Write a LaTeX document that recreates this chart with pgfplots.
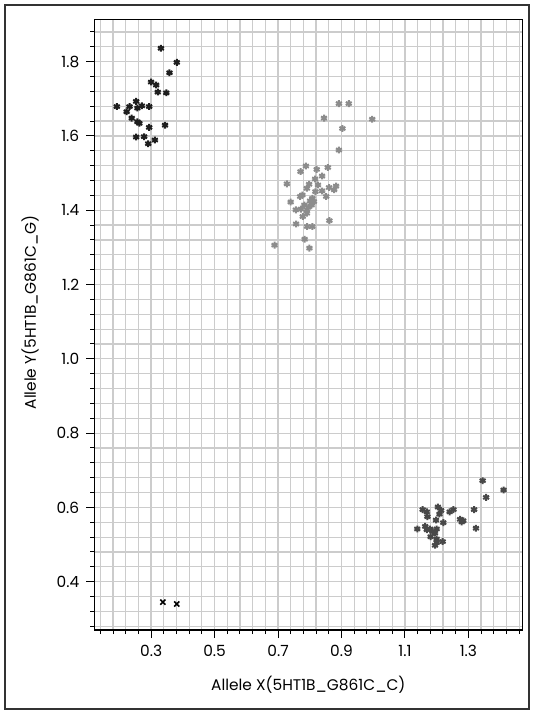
\documentclass[border=0pt]{standalone}
\usepackage{fontspec}
\setmainfont{Poppins}
\usepackage{pgfplots}
\pgfplotsset{compat=1.18}
\definecolor{Grid}{HTML}{CCCCCC}
\definecolor{CluA}{HTML}{1E1E1E}
\definecolor{CluB}{HTML}{8C8C8C}
\definecolor{CluC}{HTML}{484848}
\definecolor{Frame}{HTML}{333333}

\begin{document}
\begin{tikzpicture}
\useasboundingbox (-47.15pt,-40.5pt) rectangle (219.85pt,315pt);
\draw[Frame,line width=0.7pt] (-44.65pt,-39.5pt) rectangle (217.35pt,312.5pt);
\begin{axis}[
  at={(0,0)}, anchor=south west,
  scale only axis,
  width=214pt, height=305.35pt,
  xmin=0.121, xmax=1.47,
  ymin=0.27, ymax=1.914,
  xtick={0.3,0.5,0.7,0.9,1.1,1.3},
  ytick={0.4,0.6,0.8,1.0,1.2,1.4,1.6,1.8},
  minor xtick={0.14,0.18,...,1.47},
  minor ytick={0.28,0.32,...,1.90},
  xticklabels={0.3,0.5,0.7,0.9,1.1,1.3},
  yticklabels={0.4,0.6,0.8,1.0,1.2,1.4,1.6,1.8},
  grid=minor,
  minor grid style={Grid,line width=0.6pt},
  tick align=outside,
  xtick pos=bottom, ytick pos=left,
  major tick length=4pt, minor tick length=2pt,
  every tick/.style={black,line width=0.5pt},
  axis line style={black,line width=0.7pt},
  tick label style={font=\fontsize{7.7}{9}\selectfont},
  label style={font=\fontsize{7.7}{9}\selectfont},
  /pgf/number format/assume math mode=true,
  xlabel={Allele X(5HT1B\_G861C\_C)},
  ylabel={Allele Y(5HT1B\_G861C\_G)},
  xlabel style={at={(axis description cs:0.5,-0.09)},anchor=center},
  ylabel style={at={(axis description cs:-0.15,0.52)},anchor=center,rotate=0},
]
% cluster top-left
\addplot[only marks,mark=asterisk,mark size=1.7pt,line width=1pt,CluA] coordinates {
(0.331,1.836) (0.381,1.798) (0.358,1.770) (0.300,1.745) (0.316,1.737)
(0.321,1.718) (0.348,1.716) (0.253,1.693) (0.192,1.679) (0.232,1.679)
(0.257,1.675) (0.271,1.681) (0.294,1.679) (0.223,1.665) (0.239,1.648)
(0.257,1.638) (0.263,1.634) (0.294,1.623) (0.344,1.629) (0.253,1.597)
(0.278,1.598) (0.312,1.589) (0.291,1.579)
};
% cluster middle
\addplot[only marks,mark=asterisk,mark size=1.7pt,line width=1pt,CluB] coordinates {
(0.892,1.687) (0.923,1.687) (0.845,1.648) (0.997,1.645) (0.903,1.620)
(0.892,1.562) (0.788,1.519) (0.822,1.510) (0.857,1.515) (0.771,1.504)
(0.839,1.492) (0.817,1.484) (0.728,1.471) (0.798,1.470) (0.826,1.468)
(0.791,1.459) (0.861,1.461) (0.883,1.465) (0.877,1.455) (0.839,1.452)
(0.818,1.450) (0.777,1.441) (0.770,1.437) (0.852,1.437) (0.808,1.432)
(0.801,1.425) (0.813,1.423) (0.740,1.422) (0.783,1.414) (0.806,1.414)
(0.796,1.408) (0.756,1.401) (0.772,1.403) (0.791,1.401) (0.778,1.383)
(0.791,1.392) (0.862,1.372) (0.757,1.363) (0.792,1.356) (0.808,1.356)
(0.784,1.322) (0.689,1.306) (0.799,1.298)
};
% cluster bottom-right
\addplot[only marks,mark=asterisk,mark size=1.7pt,line width=1pt,CluC] coordinates {
(1.345,0.672) (1.411,0.647) (1.356,0.627) (1.318,0.594)
(1.156,0.594) (1.169,0.588) (1.204,0.601) (1.214,0.592) (1.209,0.582)
(1.253,0.594) (1.241,0.588) (1.171,0.575) (1.198,0.566) (1.221,0.559)
(1.274,0.568) (1.284,0.564) (1.279,0.561) (1.139,0.542) (1.164,0.549)
(1.169,0.540) (1.179,0.542) (1.187,0.535) (1.200,0.542) (1.324,0.544)
(1.195,0.531) (1.181,0.521) (1.200,0.515) (1.219,0.508) (1.200,0.505)
(1.195,0.498)
};
% no-call
\addplot[only marks,mark=x,mark size=1.8pt,line width=0.8pt,black] coordinates {
(0.337,0.345) (0.381,0.340)
};
\end{axis}
\end{tikzpicture}
\end{document}
